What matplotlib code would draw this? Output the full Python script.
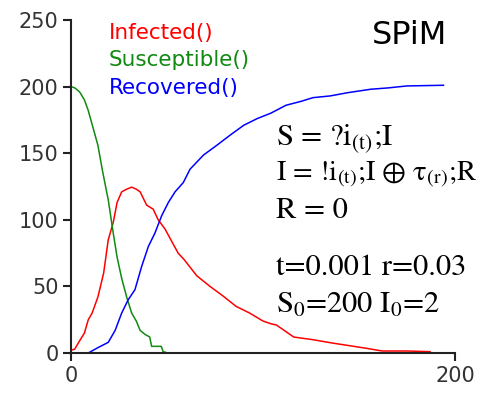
import matplotlib.pyplot as plt

plt.rcParams['mathtext.fontset'] = 'stix'
plt.rcParams['mathtext.default'] = 'rm'

# susceptible
t_s = [0, 2, 4.5, 7, 9, 11.5, 14, 16.5, 19.4, 22, 24, 26.4, 29, 31.6, 34, 36,
       38.5, 41, 42, 47, 48, 50.5]
S = [200, 199, 196, 190, 182, 169, 156, 136, 115, 90, 72, 56, 42, 30, 24, 17,
     14, 12, 5, 5, 1, 0]

# infected
t_i = [0, 2, 4, 7, 9, 11, 14, 17, 19.4, 22, 24, 26.4, 29, 31.6, 34, 36, 39.4,
       42.8, 45.4, 49, 52, 55.8, 59, 65.5, 72.4, 79, 86, 93, 100, 104, 107, 113,
       116, 126, 136, 145, 154, 162, 175, 187]
I = [2, 3, 8, 15, 25, 30, 42, 60, 85, 98, 113, 121, 123, 124.5, 123, 121, 111,
     108, 100, 93, 85, 75, 70, 58, 50, 43, 35, 30, 24, 22, 21, 15,
     12, 10, 7.5, 5.5, 3.5, 1.5, 1.5, 1]

# recovered
t_r = [8, 9, 14, 19.4, 23, 26.4, 29.8, 33.3, 36.8, 40.3, 43.7, 47.2, 50.7, 54.2,
       58.5, 62, 69, 76, 83, 90, 97, 104, 112, 120, 126, 135, 144, 156, 165,
       175, 194]
R = [0, 0, 4, 8, 17, 30, 40, 47.5, 65, 80, 90, 103, 113, 121,
     128, 138, 148.6, 156, 163.7, 171, 176, 180, 186, 189, 191.7, 193, 195.4,
     198, 199, 200.5, 201]

names = ['Infected()', 'Susceptible()', 'Recovered()']
colors = ['#ff0000', '#108a10', '#0000ff']

fig = plt.figure(figsize=(4.87, 3.93), dpi=100)
ax = fig.add_axes([71 / 487, 1 - 353 / 393, 384 / 487, 333 / 393])

ax.plot(t_i, I, color=colors[0], lw=1.1)
ax.plot(t_s, S, color=colors[1], lw=1.1)
ax.plot(t_r, R, color=colors[2], lw=1.1)

ax.set_xlim(0, 200)
ax.set_ylim(0, 250)
ax.set_xticks([0, 200])
ax.set_yticks([0, 50, 100, 150, 200, 250])
ax.spines['top'].set_visible(False)
ax.spines['right'].set_visible(False)
for s in ['left', 'bottom']:
    ax.spines[s].set_linewidth(1.5)
    ax.spines[s].set_color('#222222')
ax.tick_params(axis='both', length=6, width=1.5, color='#222222',
               labelsize=15, labelcolor='#333333', pad=3)

for k in range(3):
    fig.text(109 / 487, 1 - (33 + 27.5 * k) / 393, names[k], color=colors[k],
             fontsize=15.5, va='center', ha='left')

fig.text(410 / 487, 1 - 36 / 393, 'SPiM', fontsize=23, ha='center', va='center')

serif = ['STIXGeneral', 'DejaVu Serif']
lines = [
    (145, 'S = ?i$_{(t)}$;I', 22),
    (181, 'I = !i$_{(t)}$;I \u2295 \u03c4$_{(r)}$;R', 20.5),
    (218, 'R = 0', 22),
    (275, 't=0.001 r=0.03', 22),
    (313, 'S$_0$=200 I$_0$=2', 22),
]
for y, s, fs in lines:
    fig.text(276 / 487, 1 - y / 393, s, family=serif, fontsize=fs,
             ha='left', va='baseline')

fig.savefig('out.png', dpi=100)
